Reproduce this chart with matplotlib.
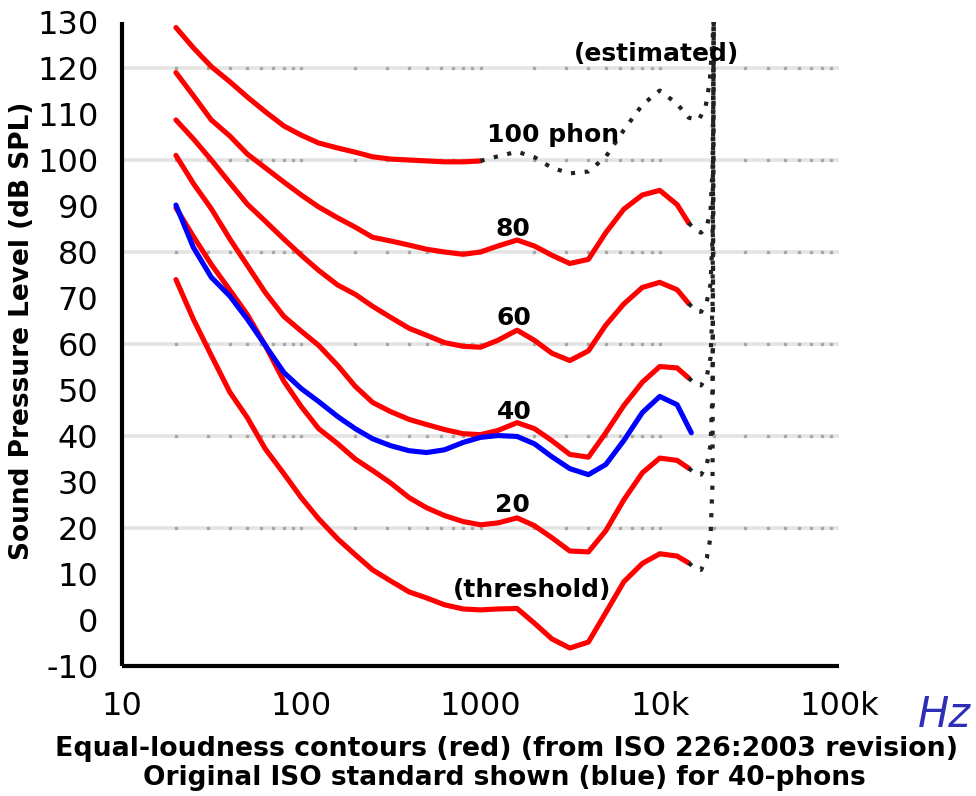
import matplotlib
matplotlib.use("Agg")
import matplotlib.pyplot as plt
import numpy as np

# ---------------- data ----------------
freqs = [20, 25, 31.5, 40, 50, 63, 80, 100, 125, 160, 200, 250, 315, 400, 500,
         630, 800, 1000, 1250, 1600, 2000, 2500, 3150, 4000, 5000, 6300, 8000,
         10000, 12500, 14500]

threshold = [74.0, 65.4, 57.5, 49.5, 44.0, 37.2, 31.8, 26.6, 22.0, 17.6, 14.2, 10.9,
             8.5, 6.1, 4.8, 3.3, 2.4, 2.2, 2.4, 2.5, -0.7, -4.1, -6.1, -4.8, 1.6,
             8.3, 12.3, 14.4, 13.9, 12.4]
phon20 = [89.6, 83.4, 77.3, 71.7, 66.4, 59.7, 51.9, 46.4, 41.6, 38.3, 35.0, 32.5,
          29.8, 26.6, 24.4, 22.7, 21.4, 20.7, 21.1, 22.2, 20.5, 17.9, 15.0, 14.8,
          19.4, 26.1, 32.0, 35.2, 34.7, 33.0]
phon40 = [101.0, 94.9, 89.4, 82.8, 77.1, 71.2, 66.0, 62.8, 59.7, 55.3, 50.8, 47.3,
          45.3, 43.6, 42.5, 41.4, 40.5, 40.3, 41.2, 42.9, 41.6, 39.0, 36.0, 35.4,
          40.7, 46.6, 51.7, 55.1, 54.8, 52.6]
phon60 = [108.7, 104.6, 100.0, 95.0, 90.4, 86.7, 82.8, 79.3, 76.0, 72.8, 70.8, 68.2,
          65.8, 63.4, 61.9, 60.3, 59.5, 59.3, 60.8, 63.0, 60.8, 58.0, 56.4, 58.5,
          64.1, 68.7, 72.3, 73.4, 71.8, 68.8]
phon80 = [119.0, 114.0, 108.7, 105.2, 101.3, 98.3, 95.2, 92.4, 89.8, 87.4, 85.4, 83.2,
          82.4, 81.5, 80.6, 80.0, 79.5, 80.0, 81.3, 82.6, 81.3, 79.3, 77.5, 78.4,
          84.2, 89.3, 92.4, 93.4, 90.3, 86.3]

freqs100 = [20, 25, 31.5, 40, 50, 63, 80, 100, 125, 160, 200, 250, 315, 400, 500,
            630, 800, 1000]
phon100 = [128.8, 124.4, 120.3, 117.0, 113.7, 110.5, 107.4, 105.4, 103.7, 102.6,
           101.7, 100.7, 100.2, 100.0, 99.8, 99.6, 99.6, 99.8]

# estimated (dotted) parts
est100_f = [1000, 1250, 1600, 2000, 2500, 3150, 4000, 5000, 6300, 8000, 10000,
            12500, 14500, 16500, 18000, 19000, 20000]
est100_db = [99.8, 100.8, 101.8, 100.6, 98.3, 97.1, 97.5, 100.7, 106.5, 112.0,
             115.1, 112.2, 109.2, 108.7, 111.5, 117.0, 130.0]
est_f = [14500, 15800, 17000, 18300, 19200, 19700, 20000]
est_threshold = [12.4, 11.2, 10.9, 13.5, 18.0, 30.0, 130.0]
est20 = [33.0, 31.8, 31.6, 33.8, 38.0, 50.0, 130.0]
est40 = [52.6, 51.3, 51.0, 53.0, 57.0, 68.0, 130.0]
est60 = [68.8, 67.3, 67.0, 69.2, 73.0, 83.0, 130.0]
est80 = [86.3, 84.8, 84.2, 85.6, 89.0, 98.0, 130.0]

# original ISO 40-phon (blue)
blue_f = [20, 25, 31.5, 40, 50, 63, 80, 100, 125, 160, 200, 250, 315, 400, 500,
          630, 800, 1000, 1250, 1600, 2000, 2500, 3150, 4000, 5000, 6300, 8000,
          10000, 12500, 15000]
blue_db = [90.2, 81.0, 74.5, 70.4, 65.4, 59.7, 53.8, 50.3, 47.5, 44.2, 41.6, 39.4,
           37.9, 36.8, 36.4, 37.0, 38.6, 39.7, 40.1, 39.9, 38.3, 35.5, 32.9, 31.6,
           33.8, 39.0, 45.1, 48.6, 46.8, 40.7]

xticks = [10, 100, 1000, 10000, 100000]
xticklabels = ["10", "100", "1000", "10k", "100k"]
yticks = list(range(-10, 131, 10))
grid_levels = [20, 40, 60, 80, 100, 120]

# ---------------- figure ----------------
W, H = 976, 796
fig = plt.figure(figsize=(W / 100, H / 100), dpi=100)
L, R, B, T = 122, 839, 666, 22
ax = fig.add_axes([L / W, 1 - B / H, (R - L) / W, (B - T) / H])
ax.set_xscale("log")
ax.set_xlim(10, 100000)
ax.set_ylim(-10, 130)

for s in ["top", "right"]:
    ax.spines[s].set_visible(False)
for s in ["left", "bottom"]:
    ax.spines[s].set_linewidth(3)
    ax.spines[s].set_color("black")
    ax.spines[s].set_capstyle("butt")

# grid lines with minor-position dots
minor_x = [n * 10 ** k for k in range(1, 5) for n in range(1, 10) if n * 10 ** k > 10]
for g in grid_levels:
    ax.axhline(g, color="#e4e4e4", lw=2.6, zorder=1)
    ax.plot(minor_x, [g] * len(minor_x), ls="none", marker="s", ms=2.0,
            color="#a8a8a8", zorder=1.5)

red_kw = dict(color="#ff0000", lw=3.7, solid_capstyle="round", solid_joinstyle="round", zorder=3)
for vals in [threshold, phon20, phon40, phon60, phon80]:
    ax.plot(freqs, vals, **red_kw)
ax.plot(freqs100, phon100, **red_kw)

ax.plot(blue_f, blue_db, color="#0000ff", lw=3.7, solid_capstyle="round",
        solid_joinstyle="round", zorder=4)

dot_kw = dict(color="#222222", lw=3.0, ls=(0, (1, 2.3)), zorder=5)
ax.plot(est100_f, est100_db, **dot_kw)
for vals in [est_threshold, est20, est40, est60, est80]:
    ax.plot(est_f, vals, **dot_kw)

# ticks
ax.set_xticks(xticks)
ax.set_xticklabels(xticklabels)
ax.xaxis.set_minor_locator(matplotlib.ticker.NullLocator())
ax.set_yticks(yticks)
ax.set_yticklabels([str(v) for v in yticks])
ax.tick_params(axis="both", length=0, labelsize=23)
ax.tick_params(axis="y", pad=17)
ax.tick_params(axis="x", pad=18)

# curve labels
lab_kw = dict(fontsize=18, fontweight="bold", ha="center", va="center", zorder=6)
ax.text(2550, 105.5, "100 phon", **lab_kw)
ax.text(9550, 123.0, "(estimated)", **lab_kw)
ax.text(1510, 85.0, "80", **lab_kw)
ax.text(1540, 65.6, "60", **lab_kw)
ax.text(1540, 45.3, "40", **lab_kw)
ax.text(1510, 25.0, "20", **lab_kw)
ax.text(1950, 6.6, "(threshold)", **lab_kw)

# axis titles
fig.text(22 / W, 1 - 331 / H, "Sound Pressure Level (dB SPL)", rotation=90,
         ha="center", va="center", fontsize=19, fontweight="bold")
fig.text(55 / W, 1 - 749 / H,
         "Equal-loudness contours (red) (from ISO 226:2003 revision)",
         ha="left", va="center", fontsize=19.3, fontweight="bold")
fig.text(504 / W, 1 - 778 / H,
         "Original ISO standard shown (blue) for 40-phons",
         ha="center", va="center", fontsize=19, fontweight="bold")

# handwritten-looking note
fig.text(918 / W, 1 - 727 / H, "Hz", color="#2e2eb8", fontsize=30,
         fontstyle="italic", fontweight="light", ha="left", va="baseline")

fig.savefig("out.png", dpi=100)
